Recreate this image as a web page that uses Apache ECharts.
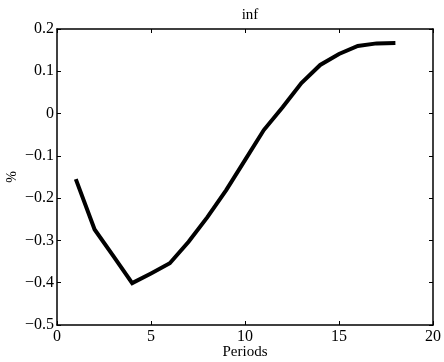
<!DOCTYPE html>
<html>
<head>
<meta charset="utf-8">
<script src="https://cdn.jsdelivr.net/npm/echarts@6/dist/echarts.min.js"></script>
<style>
html, body { margin: 0; padding: 0; background: #fff; }
#main { width: 444px; height: 362px; }
</style>
</head>
<body>
<div id="main"></div>
<script>
// 数据
var periods = [1, 2, 3, 4, 5, 6, 7, 8, 9, 10, 11, 12, 13, 14, 15, 16, 17, 18];
var infValues = [-0.155, -0.274, -0.337, -0.401, -0.378, -0.354, -0.303, -0.245, -0.181,
  -0.110, -0.039, 0.015, 0.072, 0.115, 0.141, 0.160, 0.166, 0.167];
var xTicks = [0, 5, 10, 15, 20];
var yTicks = [-0.5, -0.4, -0.3, -0.2, -0.1, 0, 0.1, 0.2];

var font = 'Liberation Serif';
var myChart = echarts.init(document.getElementById('main'));

var points = periods.map(function (p, i) { return [p, infValues[i]]; });

function fmtY(v) {
  var s = (Math.round(v * 10) / 10).toString();
  return s.replace('-', '\u2212');
}

var tickStyle = { show: true, inside: true, length: 4, lineStyle: { color: '#000', width: 1 } };

var option = {
  animation: false,
  title: {
    text: 'inf',
    left: 245,
    top: 3,
    textAlign: 'center',
    textStyle: { fontFamily: font, fontSize: 15, fontWeight: 'normal', color: '#000' }
  },
  grid: { left: 57, right: 11, top: 29, bottom: 37, containLabel: false, outerBoundsMode: 'none' },
  xAxis: [{
    type: 'value', min: xTicks[0], max: xTicks[xTicks.length - 1], interval: 5, position: 'bottom',
    name: 'Periods', nameLocation: 'middle', nameGap: 20, nameMoveOverlap: false,
    nameTextStyle: { fontFamily: font, fontSize: 15, color: '#000' },
    axisLine: { show: true, onZero: false, lineStyle: { color: '#000', width: 1.5 } },
    axisTick: tickStyle,
    axisLabel: { fontFamily: font, fontSize: 16, color: '#000', margin: 4 },
    splitLine: { show: false }
  }, {
    type: 'value', min: xTicks[0], max: xTicks[xTicks.length - 1], interval: 5, position: 'top',
    axisLine: { show: true, onZero: false, lineStyle: { color: '#000', width: 1.5 } },
    axisTick: tickStyle,
    axisLabel: { show: false },
    splitLine: { show: false }
  }],
  yAxis: [{
    type: 'value', min: yTicks[0], max: yTicks[yTicks.length - 1], interval: 0.1, position: 'left',
    name: '%', nameLocation: 'middle', nameGap: 38, nameMoveOverlap: false,
    nameTextStyle: { fontFamily: font, fontSize: 14, color: '#000' },
    axisLine: { show: true, onZero: false, lineStyle: { color: '#000', width: 1.5 } },
    axisTick: tickStyle,
    axisLabel: { fontFamily: font, fontSize: 16, color: '#000', margin: 3, formatter: fmtY },
    splitLine: { show: false }
  }, {
    type: 'value', min: yTicks[0], max: yTicks[yTicks.length - 1], interval: 0.1, position: 'right',
    axisLine: { show: true, onZero: false, lineStyle: { color: '#000', width: 1.5 } },
    axisTick: tickStyle,
    axisLabel: { show: false },
    splitLine: { show: false }
  }],
  series: [{
    type: 'line',
    name: 'inf',
    data: points,
    showSymbol: false,
    lineStyle: { color: '#000', width: 4, join: 'miter' },
    itemStyle: { color: '#000' }
  }]
};
myChart.setOption(option);
</script>
</body>
</html>
